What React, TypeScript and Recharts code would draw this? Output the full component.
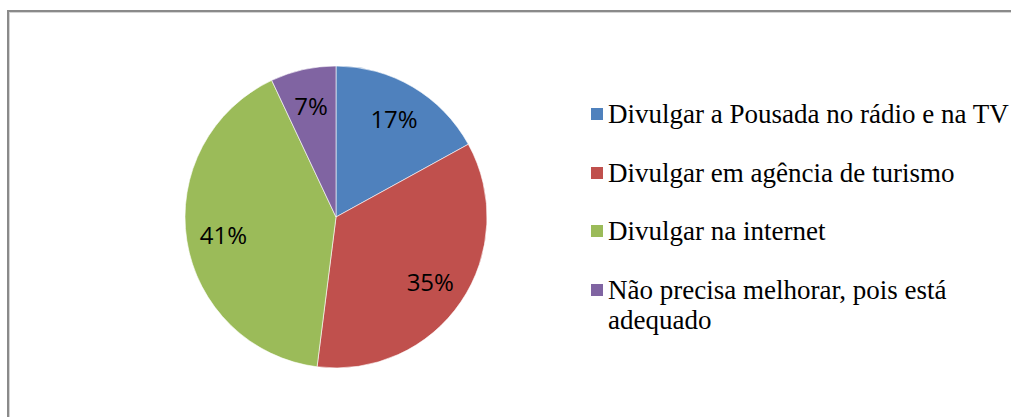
import React from 'react';
import { PieChart, Pie, Cell } from 'recharts';

const categories = [
  'Divulgar a Pousada no rádio e na TV',
  'Divulgar em agência de turismo',
  'Divulgar na internet',
  'Não precisa melhorar, pois está adequado',
];
const values = [17, 35, 41, 7];
const colors = ['#4F81BD', '#C0504D', '#9BBB59', '#8064A2'];

const data = categories.map((name, i) => ({ name, value: values[i] }));

const RADIAN = Math.PI / 180;
const SERIF = '"Liberation Serif", "Times New Roman", serif';

const renderLabel = (props: any) => {
  const { cx, cy, midAngle, outerRadius, value } = props;
  const r = outerRadius * 0.755;
  const x = cx + r * Math.cos(-midAngle * RADIAN);
  const y = cy + r * Math.sin(-midAngle * RADIAN);
  return (
    <text
      x={x}
      y={y}
      textAnchor="middle"
      dominantBaseline="central"
      fill="#000"
      style={{ fontFamily: "'Open Sans', 'Liberation Sans', sans-serif", fontSize: 24 }}
    >
      {value + '%'}
    </text>
  );
};

function ChartLegend() {
  return (
    <div
      style={{
        position: 'absolute',
        left: 591,
        top: 99,
        width: 420,
        fontFamily: SERIF,
        fontSize: 27,
        lineHeight: '30px',
        color: '#000',
      }}
    >
      {categories.map((name, i) => (
        <div key={i} style={{ display: 'flex', alignItems: 'flex-start', marginBottom: 28.5 }}>
          <div
            style={{
              width: 12,
              height: 12,
              background: colors[i],
              marginTop: 9,
              marginRight: 5,
              flex: '0 0 auto',
            }}
          />
          <div style={{ width: 410, fontFamily: SERIF, whiteSpace: 'normal' }}>{name}</div>
        </div>
      ))}
    </div>
  );
}

export default function App() {
  return (
    <div
      style={{
        position: 'fixed',
        left: 0,
        top: 0,
        width: 1011,
        height: 417,
        overflow: 'hidden',
        background: '#fff',
      }}
    >
      <div
        style={{
          position: 'absolute',
          left: 7,
          top: 10,
          width: 1200,
          height: 600,
          borderLeft: '2px solid #8a8a8a',
          borderTop: '2px solid #8a8a8a',
          boxShadow: 'inset 1px 1px 0 #d4d4d4',
        }}
      />
      <div style={{ position: 'absolute', left: 0, top: 0 }}>
        <PieChart width={1011} height={417} margin={{ top: 0, right: 0, bottom: 0, left: 0 }}>
          <Pie
            data={data}
            dataKey="value"
            nameKey="name"
            cx={336}
            cy={217}
            outerRadius={151}
            startAngle={90}
            endAngle={-270}
            stroke="#ffffff"
            strokeWidth={0.6}
            label={renderLabel}
            labelLine={false}
            isAnimationActive={false}
          >
            {data.map((_, i) => (
              <Cell key={i} fill={colors[i]} />
            ))}
          </Pie>
        </PieChart>
      </div>
      <ChartLegend />
    </div>
  );
}
